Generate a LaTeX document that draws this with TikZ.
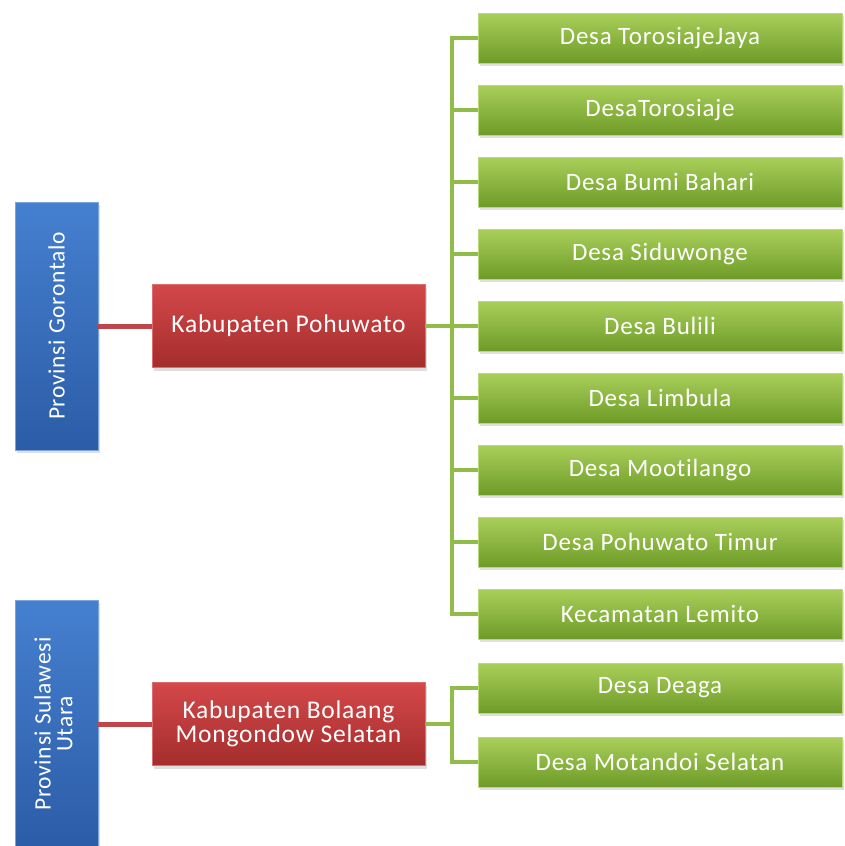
\documentclass[tikz,border=0pt]{standalone}
\usepackage{fontspec}
\setmainfont[Ligatures={NoCommon},LetterSpace=3]{Carlito}
\usetikzlibrary{shadows}
\definecolor{gtop}{HTML}{A9CF5A}
\definecolor{gbot}{HTML}{6E9B28}
\definecolor{rtop}{HTML}{D4484A}
\definecolor{rbot}{HTML}{A42D2C}
\definecolor{btop}{HTML}{4580D0}
\definecolor{bbot}{HTML}{2C5CA6}
\definecolor{glinec}{HTML}{92BC4A}
\definecolor{rlinec}{HTML}{C0454A}
\tikzset{
  boxbase/.style={rectangle, inner sep=2pt, text=white, align=center,
    drop shadow={shadow xshift=2pt, shadow yshift=-3pt, opacity=0.25}},
  provbox/.style={boxbase, minimum width=83pt, top color=btop, bottom color=bbot,
    draw=btop!70!white, line width=0.6pt, font=\fontsize{23.5}{25}\selectfont},
  kabbox/.style={boxbase, minimum width=273pt, minimum height=83pt, top color=rtop, bottom color=rbot,
    draw=rtop!80!white, line width=0.6pt, font=\fontsize{25.5}{24}\selectfont},
  desabox/.style={boxbase, minimum width=364pt, minimum height=50pt, top color=gtop, bottom color=gbot,
    draw=gtop!80!white, line width=0.6pt, font=\fontsize{25}{24}\selectfont},
  gline/.style={draw=glinec, line width=4pt},
  rline/.style={draw=rlinec, line width=5pt}
}
\begin{document}
\begin{tikzpicture}[x=1pt, y=-1pt]
\useasboundingbox (0,0) rectangle (844,846);
\coordinate (t1) at (452,326);
\coordinate (t2) at (452,724);
% province boxes
\node[provbox, minimum height=248pt] (p1) at (56.5,326) {\rotatebox{90}{Provinsi Gorontalo}};
\node[provbox, minimum height=248pt] (p2) at (56.5,724) {\rotatebox{90}{\begin{tabular}{@{}c@{}}Provinsi Sulawesi\\[-3pt]Utara\end{tabular}}};
% kabupaten
\node[kabbox] (k1) at (288.5,326) {Kabupaten Pohuwato};
\node[kabbox] (k2) at (288.5,724) {Kabupaten Bolaang\\Mongondow Selatan};
% desa
\node[desabox] (d1) at (660,38) {Desa TorosiajeJaya};
\node[desabox] (d2) at (660,110) {DesaTorosiaje};
\node[desabox] (d3) at (660,182) {Desa Bumi Bahari};
\node[desabox] (d4) at (660,254) {Desa Siduwonge};
\node[desabox] (d5) at (660,326) {Desa Bulili};
\node[desabox] (d6) at (660,398) {Desa Limbula};
\node[desabox] (d7) at (660,470) {Desa Mootilango};
\node[desabox] (d8) at (660,542) {Desa Pohuwato Timur};
\node[desabox] (d9) at (660,614) {Kecamatan Lemito};
\node[desabox] (e1) at (660,688) {Desa Deaga};
\node[desabox] (e2) at (660,762) {Desa Motandoi Selatan};
% lines
\draw[rline] (p1.east) -- (k1.west);
\draw[rline] (p2.east) -- (k2.west);
\foreach \d in {d1,d2,d3,d4,d5,d6,d7,d8,d9}{
  \draw[gline] (k1.east) -- (t1) |- (\d.west);
}
\foreach \d in {e1,e2}{
  \draw[gline] (k2.east) -- (t2) |- (\d.west);
}
\end{tikzpicture}
\end{document}
